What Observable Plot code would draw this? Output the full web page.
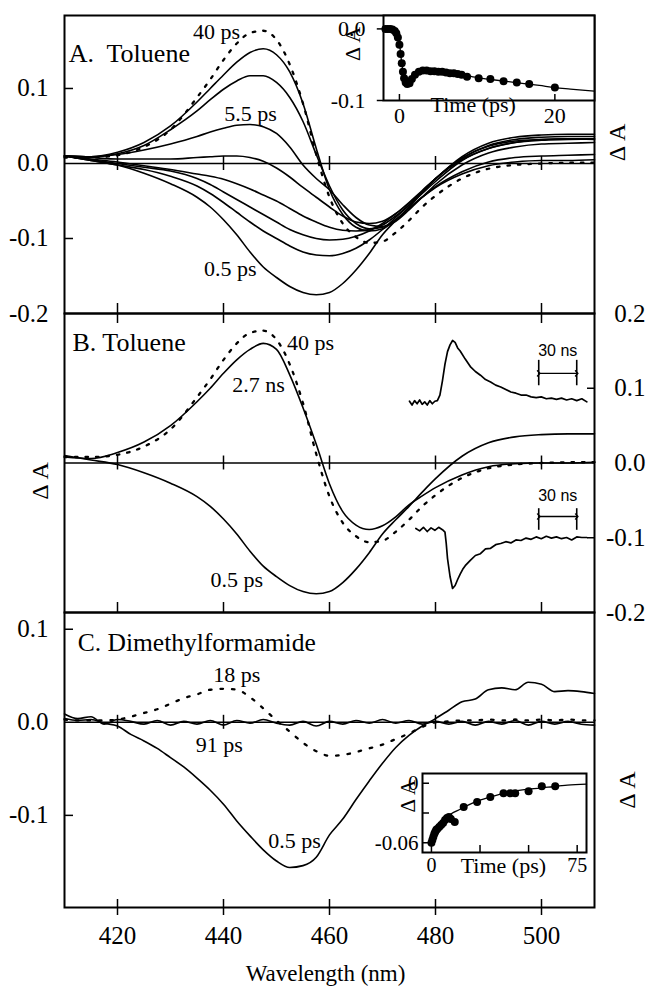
<!DOCTYPE html>
<html><head><meta charset="utf-8">
<script src="https://cdn.jsdelivr.net/npm/d3@7"></script>
<script src="https://cdn.jsdelivr.net/npm/@observablehq/plot@0.6"></script>
<style>
html,body{margin:0;padding:0;background:#fff;}
#fig{position:relative;width:647px;height:998px;overflow:hidden;background:#fff;}
#fig svg{position:absolute;left:0;top:0;}
</style></head><body><div id="fig"></div>
<script>
// ---------------- DATA ----------------
const wavelengthTicks = [420, 440, 460, 480, 500];
const yTicksA = [0.1, 0.0, -0.1, -0.2];
const yTicksB = [0.2, 0.1, 0.0, -0.1, -0.2];
const yTicksC = [0.1, 0.0, -0.1];

// Panels A/B wavelength grid (nm)
const wlA = [410,415,420,425,430,435,437.5,440,442.5,445,447.5,450,452.5,455,457.5,460,462.5,465,467.5,470,472.5,475,477.5,480,485,490,495,500,505,510];
// Toluene spectra (ΔA)
const tol40ps  = [.008,.008,.011,.022,.045,.088,.112,.138,.16,.174,.177,.165,.132,.08,.012,-.045,-.08,-.098,-.106,-.104,-.092,-.076,-.058,-.043,-.02,-.007,-.002,0,.001,.001];
const tolA2    = [.01,.009,.015,.028,.05,.082,.1,.118,.135,.148,.153,.145,.122,.08,.02,-.035,-.068,-.085,-.09,-.087,-.075,-.06,-.045,-.032,-.014,-.003,.002,.004,.004,.005];
const tolA3    = [.01,.009,.013,.024,.045,.07,.085,.099,.11,.117,.117,.108,.088,.056,.012,-.03,-.062,-.08,-.087,-.085,-.075,-.06,-.045,-.031,-.011,.002,.008,.01,.011,.012];
const tol5p5ps = [.01,.009,.012,.018,.026,.036,.042,.047,.051,.052,.049,.04,.022,-.002,-.02,-.035,-.055,-.072,-.082,-.084,-.077,-.062,-.045,-.028,-.002,.014,.022,.026,.027,.028];
const tolA5    = [.01,.008,.006,.006,.006,.008,.009,.01,.01,.008,.003,-.006,-.018,-.032,-.045,-.058,-.07,-.078,-.08,-.077,-.067,-.053,-.037,-.02,.005,.02,.028,.032,.033,.033];
const tolA6    = [.01,.006,.002,-.003,-.008,-.014,-.017,-.021,-.027,-.034,-.042,-.05,-.06,-.07,-.078,-.085,-.089,-.09,-.088,-.082,-.07,-.055,-.038,-.02,.007,.024,.032,.035,.036,.036];
const tolA7    = [.01,.005,0,-.005,-.01,-.02,-.028,-.038,-.048,-.058,-.068,-.078,-.088,-.095,-.1,-.102,-.101,-.097,-.09,-.08,-.067,-.052,-.036,-.02,.007,.023,.03,.032,.033,.032];
const tolA8    = [.01,.004,-.002,-.008,-.017,-.03,-.04,-.052,-.065,-.078,-.09,-.1,-.11,-.118,-.122,-.123,-.12,-.113,-.102,-.088,-.072,-.056,-.04,-.024,.004,.02,.028,.031,.032,.033];
const tol0p5ps = [.01,.004,-.002,-.013,-.027,-.045,-.058,-.075,-.095,-.118,-.138,-.152,-.164,-.172,-.175,-.172,-.16,-.142,-.12,-.095,-.076,-.058,-.039,-.021,.009,.027,.035,.038,.039,.039];
const tol2p7ns = [.008,.006,.014,.028,.05,.082,.1,.12,.138,.152,.16,.152,.118,.074,.025,-.028,-.065,-.083,-.089,-.084,-.072,-.056,-.044,-.033,-.016,-.005,-.001,0,0,.001];

// Panel C wavelength grid (nm) and DMF spectra
const wlC = [410,412.5,415,417.5,420,422.5,425,427.5,430,432.5,435,437.5,440,442.5,445,447.5,450,452.5,455,457.5,460,462.5,465,467.5,470,472.5,475,477.5,480,482.5,485,487.5,490,492.5,495,497.5,500,502.5,505,507.5,510];
const dmf0p5ps = [.004,.002,.003,-.001,-.004,-.013,-.02,-.028,-.038,-.048,-.06,-.073,-.088,-.106,-.122,-.137,-.149,-.156,-.154,-.145,-.121,-.104,-.083,-.063,-.044,-.027,-.014,-.004,.004,.013,.022,.025,.035,.037,.035,.043,.041,.033,.034,.033,.031];
const dmf18ps  = [.003,.002,.002,.002,.003,.006,.01,.014,.02,.026,.03,.035,.036,.035,.027,.015,.002,-.01,-.022,-.031,-.036,-.035,-.032,-.028,-.024,-.018,-.012,-.005,0,.001,.002,.002,.003,.002,.003,.002,.003,.002,.003,.002,.002];
const dmf91ps  = [.009,.004,.006,-.002,.003,.001,-.002,.002,-.003,.001,-.002,.002,-.003,.002,-.001,.003,-.001,-.003,.001,-.004,.001,-.002,.002,-.001,.003,-.001,.002,-.002,.001,-.002,.001,-.003,.001,-.002,.002,-.003,.001,-.002,.001,-.002,-.003];

// Inset A kinetics (toluene)
const insetATime = [-1.8,-1.5,-1.2,-0.9,-0.6,-0.4,-0.2,0,0.15,0.3,0.45,0.6,0.8,1.0,1.3,1.6,2.0,2.5,3,3.5,4,4.5,5,5.5,6,6.5,7,7.5,8,8.7,10.2,11.7,13.4,15.1,16.7,20];
const insetAdA   = [0,0,0,-0.001,-0.003,-0.006,-0.012,-0.022,-0.035,-0.048,-0.06,-0.069,-0.075,-0.077,-0.076,-0.07,-0.064,-0.06,-0.058,-0.058,-0.059,-0.059,-0.06,-0.06,-0.061,-0.062,-0.062,-0.063,-0.064,-0.067,-0.069,-0.07,-0.073,-0.075,-0.077,-0.082];
const insetAFitTime = [-2.05,-1,-0.3,0,0.3,0.6,1,1.5,2,3,4,6,8,10,12,15,18,20,22,25.1];
const insetAFit     = [0,0,-0.003,-0.02,-0.048,-0.068,-0.077,-0.072,-0.064,-0.059,-0.058,-0.06,-0.064,-0.068,-0.071,-0.075,-0.079,-0.082,-0.084,-0.087];
const insetATimeTicks = [0, 20];
const insetAYTicks = [0.0, -0.1];

// Inset C kinetics (DMF)
const insetCTime = [0,0.5,1,1.5,2,2.5,3,4,5,6,7,8,9,10,12,16.6,23.5,30.3,37.1,40.6,43.1,50,56.8,63.7];
const insetCdA   = [-0.06,-0.057,-0.054,-0.051,-0.049,-0.047,-0.046,-0.044,-0.042,-0.04,-0.037,-0.035,-0.034,-0.036,-0.039,-0.024,-0.019,-0.014,-0.01,-0.01,-0.01,-0.008,-0.003,-0.003];
const insetCFitTime = [0,1,2,4,6,8,10,15,20,25,30,40,50,60,70,79.8];
const insetCFit     = [-0.058,-0.052,-0.047,-0.041,-0.037,-0.034,-0.031,-0.026,-0.021,-0.017,-0.014,-0.009,-0.006,-0.004,-0.002,-0.001];
const insetCTimeTicks = [0, 25, 50, 75];
const insetCTimeLabels = [0, 75];
const insetCYTicks = [0, -0.03, -0.06];
const insetCYLabels = [0, -0.06];

// Panel B nanosecond traces (normalized signal)
const traceUpTime = [0,2,4,6,8,10,12,14,16,18,20,22,24,26,28,30,32,34,36,38,40,44,48,52,56,60,64,68,72,76,80,84,88,92,96,100,104,108,112,116,120,124,128,132,136,140];
const traceUp     = [0.02,-0.04,0.03,-0.02,0.04,-0.03,0.01,-0.04,0.03,-0.02,0.02,0.03,0.12,0.35,0.62,0.82,0.93,1.0,0.97,0.88,0.83,0.7,0.58,0.5,0.44,0.37,0.33,0.28,0.25,0.21,0.17,0.15,0.12,0.12,0.09,0.08,0.09,0.06,0.07,0.05,0.07,0.04,0.06,0.03,0.06,0.01];
const traceDownTime = [5,8,11,14,17,20,23,26,28,29,30,32,34,36,38,40,42,44,48,52,56,60,64,68,72,76,80,84,88,92,96,100,104,108,112,116,120,124,128,132,136,140];
const traceDown     = [0.0,-0.04,0.02,-0.05,0.01,-0.03,0.02,-0.02,-0.06,-0.25,-0.5,-0.8,-1.0,-0.95,-0.85,-0.76,-0.68,-0.62,-0.53,-0.45,-0.42,-0.34,-0.33,-0.27,-0.25,-0.22,-0.24,-0.19,-0.2,-0.16,-0.18,-0.14,-0.17,-0.13,-0.16,-0.14,-0.17,-0.15,-0.19,-0.14,-0.15,-0.15];
const scaleBarNs = 30;
const scaleBarStartNs = 102;

// ---------------- LAYOUT ----------------
const W = 647, H = 998;
const SERIF = "Liberation Serif";
const SANS = "Liberation Sans";
const frameA = {l: 64, r: 594, t: 15, b: 313};
const frameB = {l: 64, r: 594, t: 313, b: 612};
const frameC = {l: 64, r: 594, t: 612, b: 907};
const frameInsetA = {l: 383, r: 594, t: 15, b: 100};
const frameInsetC = {l: 422, r: 586, t: 773, b: 852};
const frameTraceUp = {l: 409, r: 587, t: 340, b: 402};
const frameTraceDown = {l: 409, r: 587, t: 528, b: 588};
const wlDomain = [410, 510];
const yDomA = [-0.2, 0.1973], yDomB = [-0.2, 0.2], yDomC = [-0.199, 0.118];
const DOTS = "2.5,8";

// text mark with the serif face set explicitly on the mark
const T = (data, opts) => Plot.text(data, {fontFamily: SERIF, fill: "black", ...opts});

function layer(frame, xDomain, yDomain, marks) {
  const svg = Plot.plot({
    width: W, height: H,
    marginLeft: frame.l, marginRight: W - frame.r, marginTop: frame.t, marginBottom: H - frame.b,
    x: {domain: xDomain, axis: null},
    y: {domain: yDomain, axis: null},
    style: {background: "transparent", overflow: "visible", color: "black"},
    marks
  });
  svg.setAttribute("font-family", SERIF);
  return svg;
}
const tidy = (grid, series) => Object.entries(series).flatMap(([name, vals]) => vals.map((v, i) => ({wl: grid[i], dA: v, series: name})));
const pts = (xs, ys) => xs.map((x, i) => ({x, y: ys[i]}));
const fmt1 = d => d.toFixed(1);
const fw = f => f.r - f.l, fh = f => f.b - f.t;

function frameTicks(frame, pxPerY, opts) {
  const marks = [];
  const zt = 7 / pxPerY;
  marks.push(Plot.ruleY([0], {strokeWidth: 1.5}));
  marks.push(Plot.ruleX(wavelengthTicks, {x: d => d, y1: -zt, y2: zt, strokeWidth: 1.5}));
  if (opts.bottom) marks.push(Plot.tickX(wavelengthTicks, {x: d => d, insetTop: fh(frame) - 10, strokeWidth: 1.5}));
  if (opts.top) marks.push(Plot.tickX(wavelengthTicks, {x: d => d, insetBottom: fh(frame) - 10, strokeWidth: 1.5}));
  if (opts.left) marks.push(Plot.tickY(opts.left, {y: d => d, insetRight: fw(frame) - 9, strokeWidth: 1.5}));
  if (opts.right) marks.push(Plot.tickY(opts.right, {y: d => d, insetLeft: fw(frame) - 7, strokeWidth: 1.5}));
  return marks;
}

// ---------------- PANEL A ----------------
const solidA = tidy(wlA, {tolA2, tolA3, tol5p5ps, tolA5, tolA6, tolA7, tolA8, tol0p5ps});
const dottedA = tidy(wlA, {tol40ps});
const annA = [
  {x: 438.7, y: 0.1747, t: "40 ps"},
  {x: 445.1, y: 0.0667, t: "5.5 ps"},
  {x: 441.3, y: -0.14, t: "0.5 ps"}
];
const panelA = layer(frameA, wlDomain, yDomA, [
  ...frameTicks(frameA, 750, {bottom: true, left: [0.1, -0.1]}),
  Plot.line(solidA, {x: "wl", y: "dA", z: "series", curve: "monotone-x", strokeWidth: 1.6, stroke: "black"}),
  Plot.line(dottedA, {x: "wl", y: "dA", z: "series", curve: "monotone-x", strokeWidth: 2.3, stroke: "black", strokeDasharray: DOTS}),
  Plot.frame({strokeWidth: 2}),
  T(yTicksA, {y: d => d, frameAnchor: "left", dx: -16, textAnchor: "end", text: fmt1, fontSize: 25}),
  T(["A.  Toluene"], {x: 410.8, y: 0.147, text: d => d, textAnchor: "start", fontSize: 26}),
  T(annA, {x: "x", y: "y", text: "t", fontSize: 22}),
  T(["Δ A"], {frameAnchor: "right", y: 0.053, dx: 23, rotate: -90, text: d => d, fontSize: 24})
]);

// ---------------- PANEL B ----------------
const solidB = tidy(wlA, {tol2p7ns, tol0p5ps});
const dottedB = tidy(wlA, {tol40ps});
const annB = [
  {x: 456.4, y: 0.161, t: "40 ps"},
  {x: 446.6, y: 0.104, t: "2.7 ns"},
  {x: 442.5, y: -0.156, t: "0.5 ps"}
];
const panelB = layer(frameB, wlDomain, yDomB, [
  ...frameTicks(frameB, 750, {bottom: true, top: true, right: [0.1, -0.1]}),
  Plot.line(solidB, {x: "wl", y: "dA", z: "series", curve: "monotone-x", strokeWidth: 1.6, stroke: "black"}),
  Plot.line(dottedB, {x: "wl", y: "dA", z: "series", curve: "monotone-x", strokeWidth: 2.3, stroke: "black", strokeDasharray: DOTS}),
  Plot.frame({strokeWidth: 2}),
  T(yTicksB, {y: d => d, frameAnchor: "right", dx: 51, textAnchor: "end", text: fmt1, fontSize: 25}),
  T(["B. Toluene"], {x: 411.5, y: 0.161, text: d => d, textAnchor: "start", fontSize: 26}),
  T(annB, {x: "x", y: "y", text: "t", fontSize: 22}),
  T(["Δ A"], {frameAnchor: "left", y: -0.049, dx: -24, rotate: -90, text: d => d, fontSize: 24})
]);

// ---------------- PANEL C ----------------
const solidC = tidy(wlC, {dmf0p5ps, dmf91ps});
const dottedC = tidy(wlC, {dmf18ps});
const annC = [
  {x: 442.5, y: 0.0505, t: "18 ps"},
  {x: 439.2, y: -0.0247, t: "91 ps"},
  {x: 453.4, y: -0.127, t: "0.5 ps"}
];
const ztC = 8 / 930;
const panelC = layer(frameC, wlDomain, yDomC, [
  ...frameTicks(frameC, 930, {left: [0.1, -0.1]}),
  Plot.ruleX(wavelengthTicks, {x: d => d, y1: yDomC[0] - ztC, y2: yDomC[0] + ztC, strokeWidth: 1.5}),
  Plot.line(solidC, {x: "wl", y: "dA", z: "series", curve: "monotone-x", strokeWidth: 1.6, stroke: "black"}),
  Plot.line(dottedC, {x: "wl", y: "dA", z: "series", curve: "monotone-x", strokeWidth: 2.3, stroke: "black", strokeDasharray: "2.5,9"}),
  Plot.frame({strokeWidth: 2}),
  T(yTicksC, {y: d => d, frameAnchor: "left", dx: -16, textAnchor: "end", text: fmt1, fontSize: 25}),
  T(wavelengthTicks, {x: d => d, frameAnchor: "bottom", dy: 36, text: d => String(d), fontSize: 25}),
  T(["Wavelength (nm)"], {frameAnchor: "bottom", dx: -4, dy: 73, text: d => d, fontSize: 23}),
  T(["C. Dimethylformamide"], {x: 412.5, y: 0.085, text: d => d, textAnchor: "start", fontSize: 25.5}),
  T(annC, {x: "x", y: "y", text: "t", fontSize: 22}),
  T(["Δ A"], {frameAnchor: "right", y: -0.0527, dx: 33, rotate: -90, text: d => d, fontSize: 24})
]);

// ---------------- INSET A ----------------
const insAX = [-2.05, 25.1], insAY = [-0.1, 0.0187];
const insetA = layer(frameInsetA, insAX, insAY, [
  Plot.frame({fill: "white", stroke: "black", strokeWidth: 2}),
  Plot.ruleY(insetAYTicks, {y: d => d, x1: insAX[0] - 0.8, x2: insAX[0], strokeWidth: 1.5}),
  Plot.tickX(insetATimeTicks, {x: d => d, insetTop: fh(frameInsetA) - 6, strokeWidth: 1.5}),
  Plot.line(pts(insetAFitTime, insetAFit), {x: "x", y: "y", strokeWidth: 1.3, curve: "monotone-x"}),
  Plot.dot(pts(insetATime, insetAdA), {x: "x", y: "y", r: 4, fill: "black"}),
  T(insetAYTicks, {y: d => d, frameAnchor: "left", dx: -18, textAnchor: "end", text: fmt1, fontSize: 22}),
  T(insetATimeTicks, {x: d => d, frameAnchor: "bottom", dy: 22, text: d => String(d), fontSize: 22}),
  T([{t: 9.5, s: "Time (ps)"}], {x: "t", frameAnchor: "bottom", dy: 11, text: "s", fontSize: 22}),
  T(["Δ A"], {frameAnchor: "left", y: -0.045, dx: -31, rotate: -90, text: d => d, fontSize: 22})
]);

// ---------------- INSET C ----------------
const insCX = [-4.6, 79.8], insCY = [-0.0698, 0.0098];
const insetC = layer(frameInsetC, insCX, insCY, [
  Plot.frame({fill: "white", stroke: "black", strokeWidth: 2}),
  Plot.tickY(insetCYTicks, {y: d => d, insetRight: fw(frameInsetC) - 7, strokeWidth: 1.5}),
  Plot.tickX(insetCTimeTicks, {x: d => d, insetTop: fh(frameInsetC) - 7, strokeWidth: 1.5}),
  Plot.line(pts(insetCFitTime, insetCFit), {x: "x", y: "y", strokeWidth: 1.3, curve: "monotone-x"}),
  Plot.dot(pts(insetCTime, insetCdA), {x: "x", y: "y", r: 4, fill: "black"}),
  T(insetCYLabels, {y: d => d, frameAnchor: "left", dx: -4, textAnchor: "end", text: d => d === 0 ? "0" : String(d), fontSize: 21}),
  T(insetCTimeLabels, {x: d => d, frameAnchor: "bottom", dy: 19, text: d => String(d), fontSize: 20}),
  T([{t: 37, s: "Time (ps)"}], {x: "t", frameAnchor: "bottom", dy: 20, text: "s", fontSize: 22}),
  T(["Δ A"], {frameAnchor: "left", y: -0.0295, dx: -14, rotate: -90, text: d => d, fontSize: 21})
]);

// ---------------- PANEL B TRACES ----------------
const trX = [0, 140.5];
const bar = [{x1: scaleBarStartNs, x2: scaleBarStartNs + scaleBarNs}];
const traceUpPlot = layer(frameTraceUp, trX, [0, 1], [
  Plot.line(pts(traceUpTime, traceUp), {x: "x", y: "y", strokeWidth: 1.7}),
  Plot.ruleX([scaleBarStartNs, scaleBarStartNs + scaleBarNs], {x: d => d, y1: 0.27, y2: 0.68, strokeWidth: 1.6}),
  Plot.link(bar, {x1: "x1", x2: "x2", y1: 0.47, y2: 0.47, strokeWidth: 1.3, markerStart: "arrow", markerEnd: "arrow"}),
  Plot.text(bar, {x: d => (d.x1 + d.x2) / 2, y: 0.84, text: () => scaleBarNs + " ns", fontSize: 16, fontFamily: SANS})
]);
const traceDownPlot = layer(frameTraceDown, trX, [-1, 0], [
  Plot.line(pts(traceDownTime, traceDown), {x: "x", y: "y", strokeWidth: 1.7}),
  Plot.ruleX([scaleBarStartNs, scaleBarStartNs + scaleBarNs], {x: d => d, y1: -0.03, y2: 0.33, strokeWidth: 1.6}),
  Plot.link(bar, {x1: "x1", x2: "x2", y1: 0.2, y2: 0.2, strokeWidth: 1.3, markerStart: "arrow", markerEnd: "arrow"}),
  Plot.text(bar, {x: d => (d.x1 + d.x2) / 2, y: 0.55, text: () => scaleBarNs + " ns", fontSize: 16, fontFamily: SANS})
]);

const fig = document.getElementById("fig");
[panelA, panelB, panelC, traceUpPlot, traceDownPlot, insetA, insetC].forEach(p => fig.appendChild(p));
</script>
</body></html>
